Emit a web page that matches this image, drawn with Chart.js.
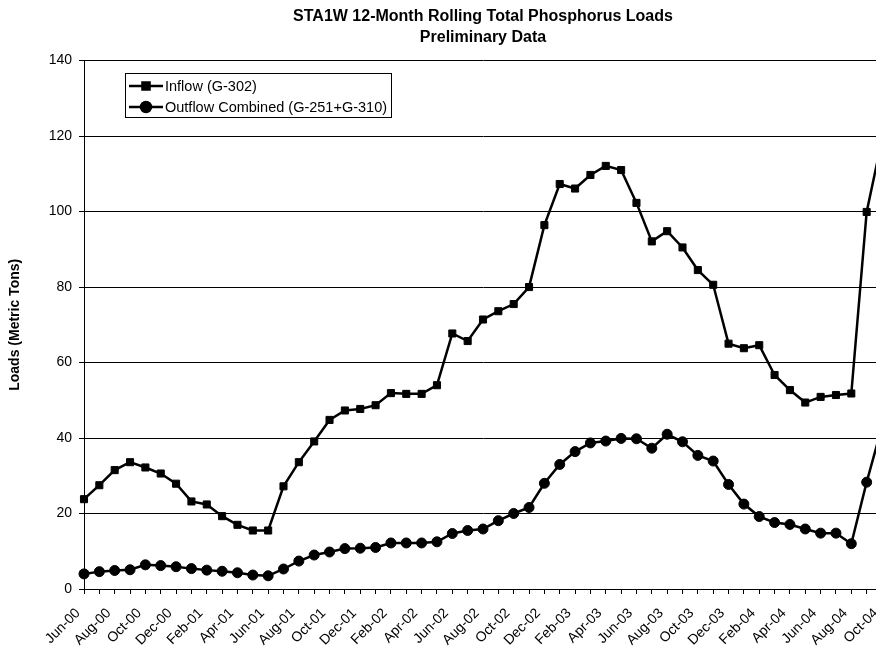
<!DOCTYPE html>
<html>
<head>
<meta charset="utf-8">
<script src="https://cdn.jsdelivr.net/npm/chart.js@4/dist/chart.umd.min.js"></script>
<style>
html,body{margin:0;padding:0;background:#fff;overflow:hidden;width:876px;height:646px}
#wrap{position:absolute;left:0;top:0;width:966px;height:646px}
</style>
</head>
<body>
<div id="wrap"><canvas id="c" width="966" height="646"></canvas></div>
<script>
const months = [
 'Jun-00','Jul-00','Aug-00','Sep-00','Oct-00','Nov-00','Dec-00',
 'Jan-01','Feb-01','Mar-01','Apr-01','May-01','Jun-01','Jul-01','Aug-01','Sep-01','Oct-01','Nov-01','Dec-01',
 'Jan-02','Feb-02','Mar-02','Apr-02','May-02','Jun-02','Jul-02','Aug-02','Sep-02','Oct-02','Nov-02','Dec-02',
 'Jan-03','Feb-03','Mar-03','Apr-03','May-03','Jun-03','Jul-03','Aug-03','Sep-03','Oct-03','Nov-03','Dec-03',
 'Jan-04','Feb-04','Mar-04','Apr-04','May-04','Jun-04','Jul-04','Aug-04','Sep-04','Oct-04'
];
const inflow = [
 23.8,27.5,31.5,33.6,32.2,30.6,27.9,
 23.2,22.4,19.3,17.0,15.5,15.5,27.2,33.6,39.1,44.8,47.3,47.7,
 48.7,51.9,51.7,51.7,54.0,67.7,65.7,71.4,73.6,75.5,80.0,96.4,
 107.3,106.1,109.7,112.1,111.0,102.3,92.1,94.8,90.5,84.5,80.6,65.0,
 63.8,64.6,56.7,52.7,49.4,50.9,51.4,51.8,99.9,119.0
];
const outflow = [
 4.0,4.6,4.9,5.1,6.4,6.2,5.9,
 5.4,5.0,4.7,4.3,3.7,3.5,5.3,7.4,9.0,9.8,10.7,10.8,
 11.0,12.2,12.2,12.2,12.5,14.7,15.5,15.9,18.1,20.0,21.6,28.0,
 33.0,36.4,38.7,39.2,39.9,39.8,37.3,41.0,39.0,35.4,33.9,27.7,
 22.5,19.2,17.6,17.1,15.9,14.8,14.8,12.0,28.3,43.0
];
const seriesNames = ['Inflow (G-302)', 'Outflow Combined (G-251+G-310)'];
const titleLines = ['STA1W 12-Month Rolling Total Phosphorus Loads', 'Preliminary Data'];
const yTitle = 'Loads (Metric Tons)';
const yTicks = {min: 0, max: 140, step: 20};

const FAM = '"Liberation Sans", Arial, Helvetica, sans-serif';
const LEG_FONT = 14.5;

const legendBox = {
  id: 'legendBox',
  afterDatasetsDraw(chart) {
    const ctx = chart.ctx;
    ctx.save();
    ctx.font = LEG_FONT + 'px ' + FAM;
    let tw = 0;
    chart.data.datasets.forEach(ds => { tw = Math.max(tw, ctx.measureText(ds.label).width); });
    const x0 = 125.5, y0 = 73.5, h = 44;
    const w = Math.round(165 + tw + 4 - 125);
    ctx.fillStyle = '#fff';
    ctx.fillRect(x0, y0, w, h);
    ctx.strokeStyle = '#000';
    ctx.lineWidth = 1;
    ctx.strokeRect(x0, y0, w, h);
    const rows = [86, 107];
    chart.data.datasets.forEach((ds, i) => {
      const y = rows[i];
      ctx.strokeStyle = '#000';
      ctx.lineWidth = 2.5;
      ctx.beginPath();
      ctx.moveTo(129, y);
      ctx.lineTo(163, y);
      ctx.stroke();
      ctx.fillStyle = '#000';
      Chart.helpers.drawPoint(ctx, {pointStyle: ds.pointStyle, radius: ds.pointRadius, borderWidth: 1}, 146, y);
      ctx.fill();
      ctx.textBaseline = 'middle';
      ctx.textAlign = 'left';
      ctx.fillText(ds.label, 165, y + 1);
    });
    ctx.restore();
  }
};

new Chart(document.getElementById('c'), {
  type: 'line',
  data: {
    labels: months,
    datasets: [
      {label: seriesNames[0], data: inflow, borderColor: '#000', backgroundColor: '#000',
       borderWidth: 2.5, pointStyle: 'rect', pointRadius: 5, pointBorderWidth: 1,
       pointBackgroundColor: '#000', pointBorderColor: '#000', tension: 0, fill: false},
      {label: seriesNames[1], data: outflow, borderColor: '#000', backgroundColor: '#000',
       borderWidth: 2.5, pointStyle: 'circle', pointRadius: 5, pointBorderWidth: 1,
       pointBackgroundColor: '#000', pointBorderColor: '#000', tension: 0, fill: false}
    ]
  },
  options: {
    responsive: false,
    animation: false,
    devicePixelRatio: 1,
    layout: {padding: {left: 0, right: 84, top: 0, bottom: 0}},
    plugins: {
      legend: {display: false},
      tooltip: {enabled: false},
      title: {
        display: true, fullSize: false, text: titleLines, color: '#000',
        font: {size: 16, weight: 'bold', family: FAM, lineHeight: 1.3},
        padding: {top: 6, bottom: 13}
      }
    },
    scales: {
      x: {
        type: 'category', offset: false,
        grid: {drawOnChartArea: false, drawTicks: true, tickLength: 5, color: '#000', lineWidth: 1},
        border: {color: '#000', width: 1},
        ticks: {
          autoSkip: false, maxRotation: 45, minRotation: 45, padding: 11, labelOffset: -6, color: '#000',
          font: {size: 14, family: FAM},
          callback: function (v, i) { return i % 2 === 0 ? this.getLabelForValue(v) : ''; }
        },
        afterFit(s) { s.height = 57; }
      },
      y: {
        min: yTicks.min, max: yTicks.max,
        ticks: {stepSize: yTicks.step, padding: 7, color: '#000', font: {size: 14, family: FAM}},
        grid: {color: '#000', lineWidth: 1, tickLength: 5},
        border: {color: '#000', width: 1},
        title: {display: true, text: yTitle, color: '#000',
                font: {size: 14, weight: 'bold', family: FAM}, padding: {top: 7, bottom: 0}},
        afterFit(s) { s.width = 84; }
      }
    }
  },
  plugins: [legendBox]
});
</script>
</body>
</html>
